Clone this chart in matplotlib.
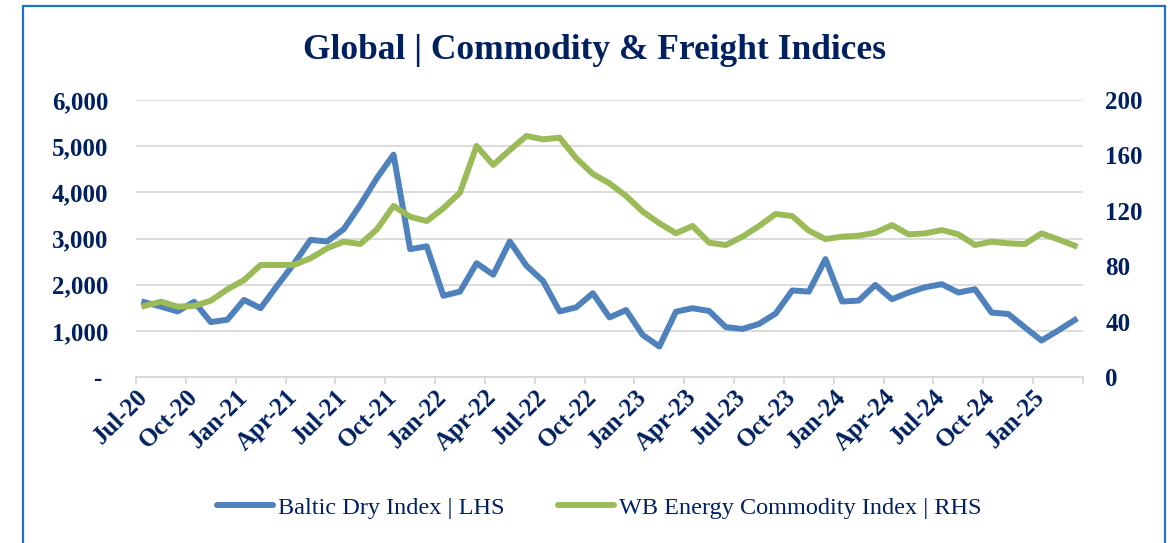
import matplotlib
matplotlib.use('Agg')
import matplotlib.pyplot as plt
from matplotlib.patches import Rectangle
from matplotlib.lines import Line2D
import numpy as np
import pandas as pd

# Mois de Jul-20 à Mar-25 (axe catégoriel)
mois = pd.date_range('2020-07-01', periods=57, freq='MS')
etiquettes_mois = [m.strftime('%b-%y') for m in mois]

# Baltic Dry Index (axe gauche)
baltic_dry = [1620, 1525, 1420, 1630, 1190, 1240, 1670, 1490, 1980, 2450,
              2970, 2935, 3200, 3730, 4310, 4815, 2770, 2830, 1760, 1850,
              2465, 2215, 2935, 2410, 2080, 1420, 1510, 1815, 1290, 1450,
              910, 660, 1415, 1490, 1430, 1080, 1040, 1150, 1375, 1875,
              1850, 2553, 1635, 1655, 1995, 1685, 1830, 1945, 2010, 1830,
              1900, 1395, 1365, 1075, 790, 1005, 1235]

# WB Energy Commodity Index (axe droit)
wb_energie = [51.3, 54.4, 50.8, 51.3, 55.1, 63.3, 70.0, 80.9, 80.9, 80.9,
              85.7, 92.9, 97.7, 96.0, 106.6, 123.5, 115.7, 112.6, 121.8, 133.1,
              166.8, 153.1, 163.9, 174.0, 171.6, 172.8, 157.9, 146.6, 139.8, 130.7,
              119.4, 111.0, 103.8, 109.0, 97.0, 95.3, 101.3, 109.0, 117.7, 116.2,
              105.6, 99.6, 101.3, 102.0, 104.2, 109.7, 103.0, 103.7, 106.1, 103.0,
              95.3, 97.7, 96.5, 96.0, 103.7, 99.4, 94.8]

ticks_gauche = [0, 1000, 2000, 3000, 4000, 5000, 6000]
ticks_droite = [0, 40, 80, 120, 160, 200]

titre = 'Global | Commodity & Freight Indices'
nom_bdi = 'Baltic Dry Index | LHS'
nom_wb = 'WB Energy Commodity Index | RHS'

MARINE = '#002060'
BLEU = '#4F81BD'
VERT = '#9BBB59'
GRIS = '#D9D9D9'

plt.rcParams['font.family'] = ['Liberation Serif', 'DejaVu Serif']

W, H = 1170, 543
fig = plt.figure(figsize=(W / 100, H / 100), dpi=100)
ax = fig.add_axes([136 / W, 1 - 377 / H, (1083 - 136) / W, (377 - 100) / H])
ax2 = ax.twinx()

x = np.arange(len(mois))
ax.plot(x, baltic_dry, color=BLEU, lw=4.3, solid_joinstyle='round', zorder=3)
ax2.plot(x, wb_energie, color=VERT, lw=4.3, solid_joinstyle='round', zorder=3)

ax.set_xlim(-0.5, len(mois) - 0.5)
ax.set_ylim(0, 6000)
ax2.set_ylim(0, 200)

# grille horizontale
ax.set_yticks(ticks_gauche)
ax.set_yticklabels(['- '] + [f'{v:,}' for v in ticks_gauche[1:]])
ax.grid(axis='y', color=GRIS, lw=1.3)
ax.set_axisbelow(True)
ax2.set_yticks(ticks_droite)
ax2.set_yticklabels([str(v) for v in ticks_droite])

# ticks entre catégories, étiquettes tous les 3 mois
bornes = list(np.arange(-0.5, len(mois) - 0.5, 3)) + [len(mois) - 0.5]
ax.set_xticks(bornes)
ax.set_xticklabels([])
pos_etiq = list(range(0, len(mois) - 2, 3))
ax.set_xticks(pos_etiq, minor=True)
ax.set_xticklabels([etiquettes_mois[i] for i in pos_etiq], minor=True)
for lbl in ax.get_xticklabels(minor=True):
    lbl.set_rotation(45)
    lbl.set_ha('right')
    lbl.set_va('center')
    lbl.set_rotation_mode('anchor')

ax.tick_params(axis='x', which='major', length=5, width=1.3, color=GRIS, direction='out')
ax.tick_params(axis='x', which='minor', length=0, pad=12, labelsize=18, labelcolor=MARINE)
ax.tick_params(axis='y', length=0, pad=20, labelsize=18, labelcolor=MARINE)
ax2.tick_params(axis='y', length=0, pad=16, labelsize=18, labelcolor=MARINE)
for lbl in ax.get_xticklabels(minor=True) + ax.get_yticklabels() + ax2.get_yticklabels():
    lbl.set_fontweight('bold')

for a in (ax, ax2):
    for s in ('top', 'left', 'right'):
        a.spines[s].set_visible(False)
    a.spines['bottom'].set_color(GRIS)
    a.spines['bottom'].set_linewidth(1.3)

fig.text(0.508, 0.907, titre, ha='center', va='center', fontsize=25.5,
         fontweight='bold', color=MARINE)

poignees = [Line2D([], [], color=BLEU, lw=4.3, solid_capstyle='round'),
            Line2D([], [], color=VERT, lw=4.3, solid_capstyle='round')]
leg = fig.legend(poignees, [nom_bdi, nom_wb], loc='center', bbox_to_anchor=(0.512, 0.0645),
                 ncol=2, frameon=False, fontsize=17.5, handlelength=2.3,
                 handletextpad=0.2, columnspacing=2.2)
for t in leg.get_texts():
    t.set_color(MARINE)

# cadre bleu autour du graphique
fig.add_artist(Rectangle((23 / W, -0.05), (1165 - 23) / W, 1 - 6 / H + 0.05,
                         transform=fig.transFigure, fill=False,
                         edgecolor='#1C73C9', lw=1.6))

fig.savefig('out.png', dpi=100)
